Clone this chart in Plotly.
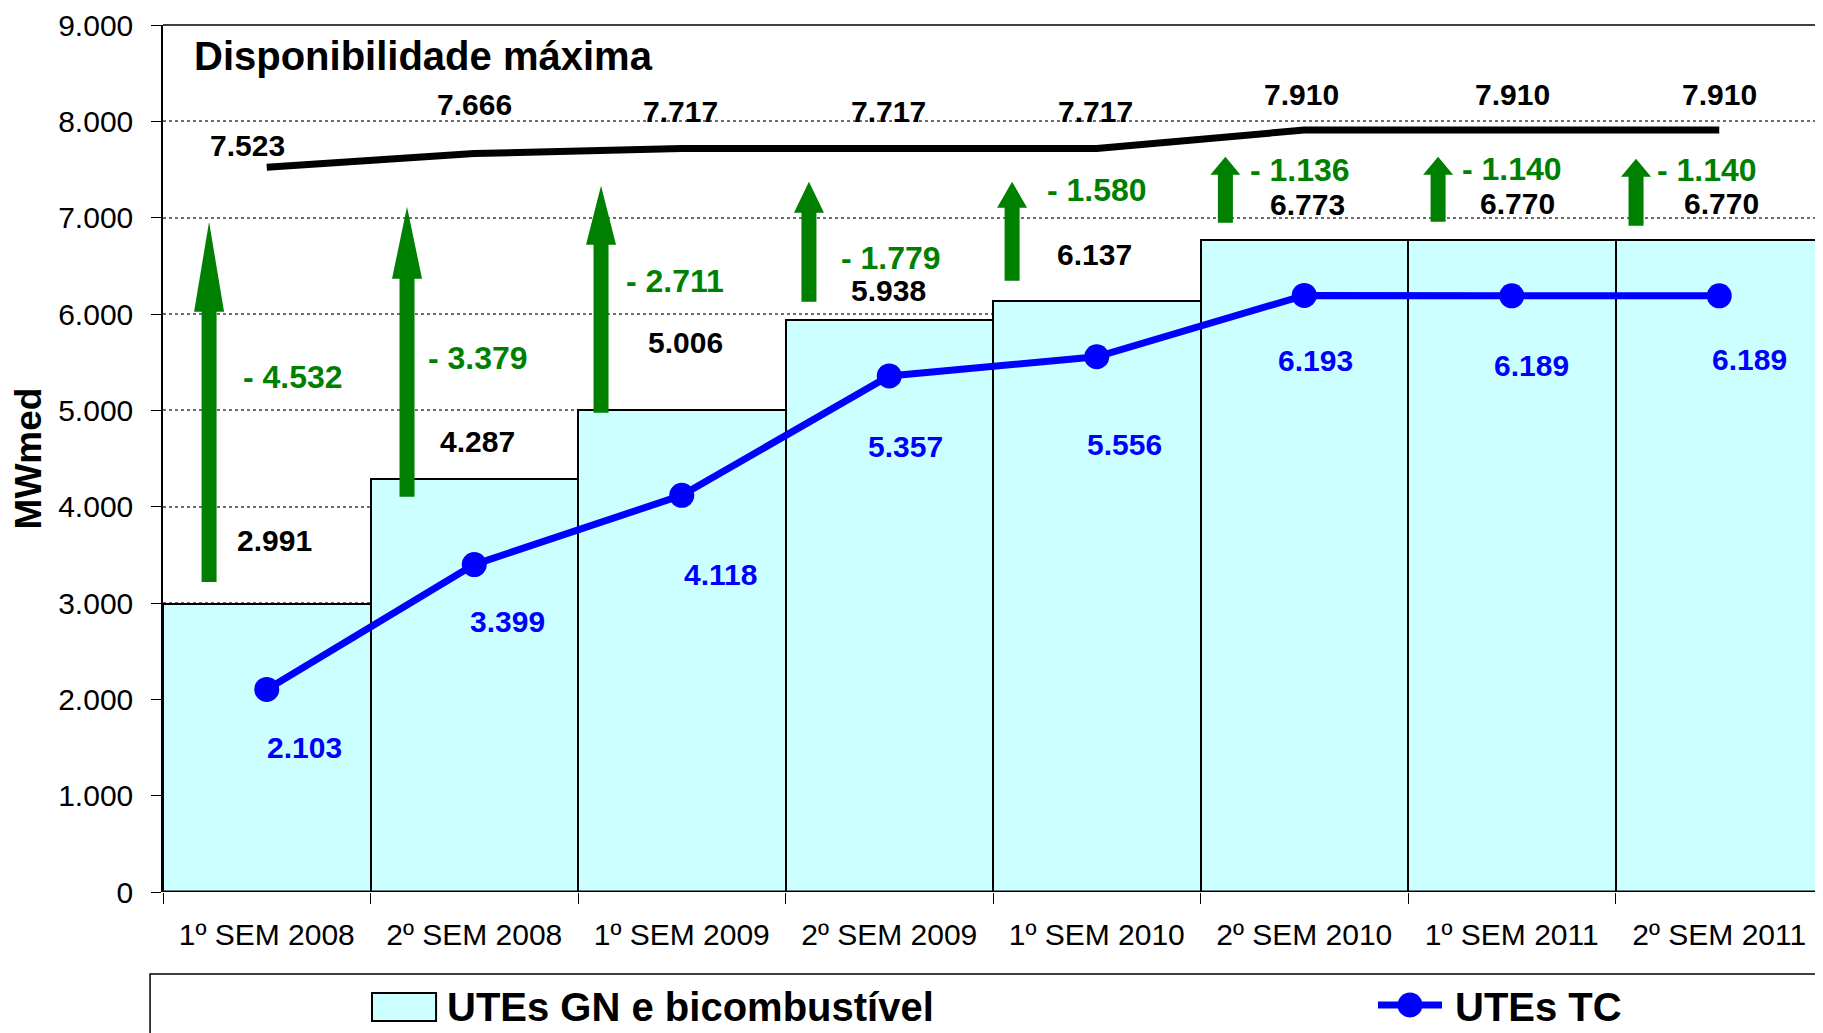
import plotly.graph_objects as go

# ---------------- data ----------------
categories = ["1º SEM 2008", "2º SEM 2008", "1º SEM 2009", "2º SEM 2009",
              "1º SEM 2010", "2º SEM 2010", "1º SEM 2011", "2º SEM 2011"]
utes_gn_bicomb = [2991, 4287, 5006, 5938, 6137, 6773, 6770, 6770]
utes_tc = [2103, 3399, 4118, 5357, 5556, 6193, 6189, 6189]
disp_maxima = [7523, 7666, 7717, 7717, 7717, 7910, 7910, 7910]
deficit = [-4532, -3379, -2711, -1779, -1580, -1136, -1140, -1140]

# ---------------- layout helpers (positions / styles) ----------------
FONT = "Arial, 'Liberation Sans', sans-serif"
GREEN = "#008000"
BLUE = "#0000FF"
CYAN = "#CCFFFF"

# label offsets in pixels (xshift, yshift)
bar_lbl_off = [(8, 63), (3, 38), (4, 67), (-1, 29), (-2, 46), (3, 35), (6, 36), (2, 36)]
max_lbl_off = [(-19, 22), (0, 49), (-1, 37), (-1, 37), (-1, 37), (-3, 36), (1, 36), (0, 36)]
def_lbl_off = [(26, -210), (4, -204), (-7, -132), (2, -109), (0, -41), (-4, -40), (0, -39), (-12, -40)]
tc_lbl_off = [(38, -58), (33, -57), (39, -79), (16, -71), (28, -88), (11, -65), (20, -70), (30, -64)]

# decorative arrows: x (category units), tail, head base, tip (axis units)
arrow_x = [-0.278, 0.676, 1.611, 2.613, 3.592, 4.620, 5.645, 6.599]
arrow_tail = [3219, 4102, 4974, 6127, 6345, 6947, 6957, 6916]
arrow_hbase = [6023, 6366, 6719, 7051, 7103, 7445, 7445, 7425]
arrow_tip = [6957, 7113, 7331, 7373, 7373, 7632, 7632, 7612]
SHAFT_HALF = 7.5 / 207.5
HEAD_HALF = 15 / 207.5


def fmt(v):
    return f"{abs(v):,}".replace(",", ".")


xs = list(range(len(categories)))

fig = go.Figure()

fig.add_trace(go.Bar(
    x=xs, y=utes_gn_bicomb, width=1, name="UTEs GN e bicombustível",
    marker=dict(color=CYAN, line=dict(color="black", width=2)),
    showlegend=False, hoverinfo="y"))

fig.add_trace(go.Scatter(
    x=xs, y=disp_maxima, mode="lines", name="Disponibilidade máxima",
    line=dict(color="black", width=7), showlegend=False))

fig.add_trace(go.Scatter(
    x=xs, y=utes_tc, mode="lines+markers", name="UTEs TC",
    line=dict(color=BLUE, width=7), marker=dict(color=BLUE, size=25),
    showlegend=False))

shapes = []
# arrows
for x, t, hb, tp in zip(arrow_x, arrow_tail, arrow_hbase, arrow_tip):
    path = (f"M {x-SHAFT_HALF},{t} L {x-SHAFT_HALF},{hb} L {x-HEAD_HALF},{hb} "
            f"L {x},{tp} L {x+HEAD_HALF},{hb} L {x+SHAFT_HALF},{hb} L {x+SHAFT_HALF},{t} Z")
    shapes.append(dict(type="path", path=path, xref="x", yref="y",
                       fillcolor=GREEN, line=dict(width=0), layer="above"))

# top frame line at 9000 and thick base line
shapes.append(dict(type="line", xref="paper", yref="paper", x0=0, x1=1, y0=1, y1=1,
                   line=dict(color="black", width=1.5)))
shapes.append(dict(type="line", xref="paper", yref="y", x0=0, x1=1, y0=0, y1=0,
                   line=dict(color="black", width=3), layer="above"))

# manual legend frame
shapes.append(dict(type="rect", xref="paper", yref="paper", x0=-0.0078, x1=1.05,
                   y0=-0.35, y1=-0.0946, line=dict(color="black", width=1.5)))
# legend swatch
shapes.append(dict(type="rect", xref="paper", yref="paper", x0=0.1259, x1=0.1645,
                   y0=-0.1488, y1=-0.1165, fillcolor=CYAN,
                   line=dict(color="black", width=2)))
# legend line + marker
shapes.append(dict(type="line", xref="paper", yref="paper", x0=0.7319, x1=0.7705,
                   y0=-0.1303, y1=-0.1303, line=dict(color=BLUE, width=7)))
shapes.append(dict(type="circle", xref="paper", yref="paper", xsizemode="pixel",
                   ysizemode="pixel", xanchor=0.7512, yanchor=-0.1303,
                   x0=-12.5, x1=12.5, y0=-12.5, y1=12.5, fillcolor=BLUE,
                   line=dict(width=0)))

ann = []
for i in xs:
    dx, dy = bar_lbl_off[i]
    ann.append(dict(x=i, y=utes_gn_bicomb[i], xref="x", yref="y", text=f"<b>{fmt(utes_gn_bicomb[i])}</b>",
                    showarrow=False, xshift=dx, yshift=dy,
                    font=dict(family=FONT, size=30, color="black")))
    dx, dy = max_lbl_off[i]
    ann.append(dict(x=i, y=disp_maxima[i], xref="x", yref="y", text=f"<b>{fmt(disp_maxima[i])}</b>",
                    showarrow=False, xshift=dx, yshift=dy,
                    font=dict(family=FONT, size=30, color="black")))
    dx, dy = def_lbl_off[i]
    ann.append(dict(x=i, y=disp_maxima[i], xref="x", yref="y", text=f"<b>- {fmt(deficit[i])}</b>",
                    showarrow=False, xshift=dx, yshift=dy,
                    font=dict(family=FONT, size=32, color=GREEN)))
    dx, dy = tc_lbl_off[i]
    ann.append(dict(x=i, y=utes_tc[i], xref="x", yref="y", text=f"<b>{fmt(utes_tc[i])}</b>",
                    showarrow=False, xshift=dx, yshift=dy,
                    font=dict(family=FONT, size=30, color=BLUE)))

ann.append(dict(x=0.0175, y=0.9643, xref="paper", yref="paper", xanchor="left",
                yanchor="middle", text="<b>Disponibilidade máxima</b>", showarrow=False,
                font=dict(family=FONT, size=40, color="black")))
ann.append(dict(x=0.1699, y=-0.1326, xref="paper", yref="paper", xanchor="left",
                yanchor="middle", text="<b>UTEs GN e bicombustível</b>", showarrow=False,
                font=dict(family=FONT, size=40, color="black")))
ann.append(dict(x=0.7771, y=-0.1326, xref="paper", yref="paper", xanchor="left",
                yanchor="middle", text="<b>UTEs TC</b>", showarrow=False,
                font=dict(family=FONT, size=40, color="black")))

# page body adds an 8px offset; margins compensate so the plot area sits at
# x 163..1823, y 25..892 in the window
fig.update_layout(
    width=1823, height=1033,
    margin=dict(l=155, r=8, t=17, b=149, autoexpand=False),
    paper_bgcolor="white", plot_bgcolor="white",
    separators=",.",
    font=dict(family=FONT, size=30, color="black"),
    bargap=0,
    shapes=shapes, annotations=ann,
    showlegend=False,
)

fig.update_xaxes(
    range=[-0.5, 7.5], tickmode="array", tickvals=xs, ticktext=categories,
    ticks="", showgrid=False, zeroline=False, showline=False,
    tickfont=dict(family=FONT, size=30, color="black"),
    ticklabelstandoff=22,
    minor=dict(tickmode="array", tickvals=[i - 0.5 for i in range(len(categories) + 1)],
               ticks="outside", ticklen=11, tickwidth=1, tickcolor="black", showgrid=False),
)

fig.update_yaxes(
    range=[0, 9000], tickmode="linear", tick0=0, dtick=1000, tickformat=",.0f",
    ticks="outside", ticklen=10, tickwidth=1, tickcolor="black",
    showline=True, linecolor="black", linewidth=1.5,
    showgrid=True, gridcolor="#6e6e6e", gridwidth=1.5, griddash="dot",
    zeroline=False,
    tickfont=dict(family=FONT, size=30, color="black"),
    ticklabelstandoff=12,
    title=dict(text="<b>MWmed</b>", font=dict(family=FONT, size=37, color="black"), standoff=14),
)

fig.write_html("out.html")
